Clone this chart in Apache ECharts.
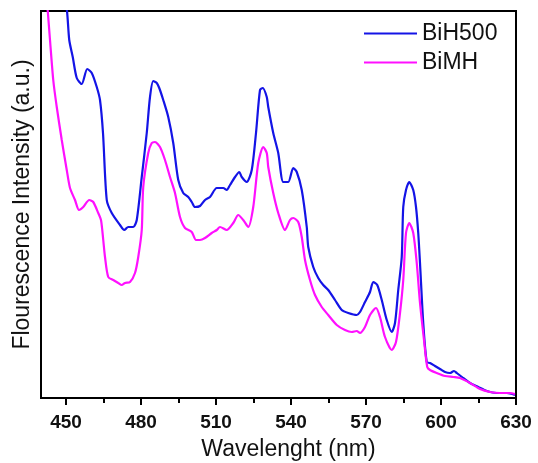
<!DOCTYPE html>
<html>
<head>
<meta charset="utf-8">
<title>Fluorescence spectra</title>
<script src="https://cdn.jsdelivr.net/npm/echarts@6/dist/echarts.min.js"></script>
<style>
  html, body { margin: 0; padding: 0; background: #fff; }
  #chart { width: 538px; height: 463px; }
</style>
</head>
<body>
<div id="chart"></div>
<script>
// BiH500 spectrum (wavelength nm / intensity a.u.)
const bihWave = [447, 450.4, 451.3, 452.7, 454.3, 456.3, 458.5, 460.3, 462.3, 463.6, 464.8, 466.3, 468.3, 471.6, 473.3, 474.9, 476.9, 478.3, 480.3, 482.3, 483.6, 484.9, 486.3, 487.3, 488.9, 490.9, 492.9, 494.9, 496.9, 498.9, 500.3, 501.6, 503.6, 505.6, 507.6, 510.3, 512.9, 514.3, 515.6, 517.6, 519.3, 520.3, 522.3, 524.3, 526, 527.6, 528.7, 530.3, 530.9, 532.9, 534.9, 536.9, 538.9, 540.9, 542.3, 544.3, 546.3, 546.9, 548.9, 550.9, 552.9, 554.9, 557.6, 560.3, 562.9, 566.3, 567.6, 569.6, 571.6, 572.9, 574.5, 576.3, 578.3, 580.3, 581.6, 582.9, 584.3, 584.9, 586, 587.3, 588.9, 590, 590.9, 591.6, 592.9, 594.3, 595.6, 597.6, 599.6, 601.6, 603.6, 605.2, 606.3, 608.9, 611.6, 614.9, 618.3, 622.3, 626.3, 629.6];
const bihInt = [450, 387, 358, 341, 320, 314, 329, 325, 311, 298, 265, 198, 185, 173, 168, 171, 171, 178, 221, 265, 301, 317, 315, 310, 298, 281, 255, 218, 205, 201, 196, 191, 192, 198, 201, 210, 210, 208, 213, 221, 226, 221, 216, 228, 265, 308, 310, 301, 291, 265, 245, 216, 216, 230, 226, 208, 171, 151, 131, 120, 113, 108, 98, 88, 85, 83, 86, 96, 106, 116, 113, 98, 78, 66, 75, 108, 141, 191, 208, 216, 208, 191, 165, 135, 75, 36, 35, 32, 29, 26, 25, 27, 25, 20, 15, 11, 7, 5, 5, 3];

// BiMH spectrum
const bimhWave = [440, 442.7, 443.6, 444.9, 446.3, 448.3, 450.3, 451.6, 453.6, 455.2, 456.9, 459.3, 460.9, 462.9, 464, 464.9, 465.6, 466.9, 468.9, 470.9, 472.3, 473.6, 475.6, 477.6, 478.9, 480.3, 480.9, 482.9, 484.3, 485.6, 487.6, 489.6, 491.6, 493.6, 495.6, 497.6, 500.3, 502, 503.6, 505.6, 508.3, 510.3, 511.6, 514.3, 516.9, 518.9, 520.9, 522.9, 524.9, 526.9, 528.9, 530.3, 530.9, 532.9, 534.9, 537.6, 539.6, 540.9, 542.9, 544.3, 545.6, 547.6, 549.6, 552.3, 554.9, 558.3, 561.6, 564.3, 566.3, 567.6, 569.6, 571.6, 574, 575.6, 577.6, 580.3, 582, 583.6, 584.9, 586, 587.3, 588.9, 590.3, 591.6, 593.2, 594.5, 595.6, 598.3, 601.6, 604.9, 607.6, 611.6, 615.6, 619.6, 623.6, 627.6, 629.6];
const bimhInt = [470, 387, 358, 318, 291, 258, 228, 210, 198, 188, 191, 198, 196, 185, 178, 158, 141, 121, 118, 115, 113, 115, 116, 125, 141, 168, 211, 245, 255, 256, 251, 238, 221, 205, 181, 170, 166, 158, 158, 160, 165, 168, 171, 168, 175, 183, 178, 171, 191, 235, 251, 245, 231, 205, 185, 168, 178, 180, 176, 161, 138, 118, 103, 91, 83, 73, 68, 66, 67, 65, 71, 83, 90, 81, 61, 48, 56, 85, 118, 165, 175, 165, 135, 95, 58, 31, 28, 25, 22, 21, 20, 15, 9, 6, 5, 5, 4];

const majorTicks = [450, 480, 510, 540, 570, 600, 630];
const minorTicks = [465, 495, 525, 555, 585, 615];

const font = "'Liberation Sans', Arial, sans-serif";
const zip = (xs, ys) => xs.map((x, i) => [x, ys[i]]);

const chart = echarts.init(document.getElementById('chart'));

chart.setOption({
  animation: false,
  grid: {
    left: 41, top: 11, right: 22, bottom: 65,
    outerBoundsMode: 'none',
    show: true, borderColor: '#000', borderWidth: 2
  },
  legend: {
    orient: 'vertical',
    left: 359, top: 14,
    icon: 'rect',
    itemWidth: 53, itemHeight: 2,
    itemGap: 0,
    textStyle: { fontFamily: font, fontSize: 23, color: '#111', lineHeight: 29 },
    data: ['BiH500', 'BiMH']
  },
  xAxis: [
    {
      type: 'value', min: 440, max: 630,
      name: 'Wavelenght (nm)', nameLocation: 'middle', nameGap: 40,
      nameTextStyle: { fontFamily: font, fontSize: 23, color: '#111', padding: [0, 0, 0, 20] },
      axisLine: { lineStyle: { color: '#000', width: 2 } },
      axisTick: { show: true, inside: false, length: 7, customValues: majorTicks, lineStyle: { color: '#000', width: 2 } },
      axisLabel: {
        customValues: majorTicks, margin: 15,
        fontFamily: font, fontSize: 19, fontWeight: 'bold', color: '#111'
      },
      splitLine: { show: false }
    },
    {
      type: 'value', min: 440, max: 630, position: 'bottom',
      axisLine: { show: false },
      axisTick: { show: true, length: 5, customValues: minorTicks, lineStyle: { color: '#000', width: 2 } },
      axisLabel: { show: false, customValues: minorTicks },
      splitLine: { show: false }
    }
  ],
  yAxis: {
    type: 'value', min: 0, max: 387,
    name: 'Flourescence Intensity (a.u.)', nameLocation: 'middle', nameGap: 7,
    nameTextStyle: { fontFamily: font, fontSize: 23, color: '#111' },
    axisLine: { show: true, lineStyle: { color: '#000', width: 2 } },
    axisTick: { show: false },
    axisLabel: { show: false },
    splitLine: { show: false }
  },
  series: [
    {
      name: 'BiH500', type: 'line', showSymbol: false, clip: true, smooth: 0.25,
      color: '#1414e6',
      lineStyle: { width: 2.2, color: '#1414e6' },
      data: zip(bihWave, bihInt)
    },
    {
      name: 'BiMH', type: 'line', showSymbol: false, clip: true, smooth: 0.25,
      color: '#ff10ff',
      lineStyle: { width: 2.2, color: '#ff10ff' },
      data: zip(bimhWave, bimhInt)
    }
  ]
});
</script>
</body>
</html>
